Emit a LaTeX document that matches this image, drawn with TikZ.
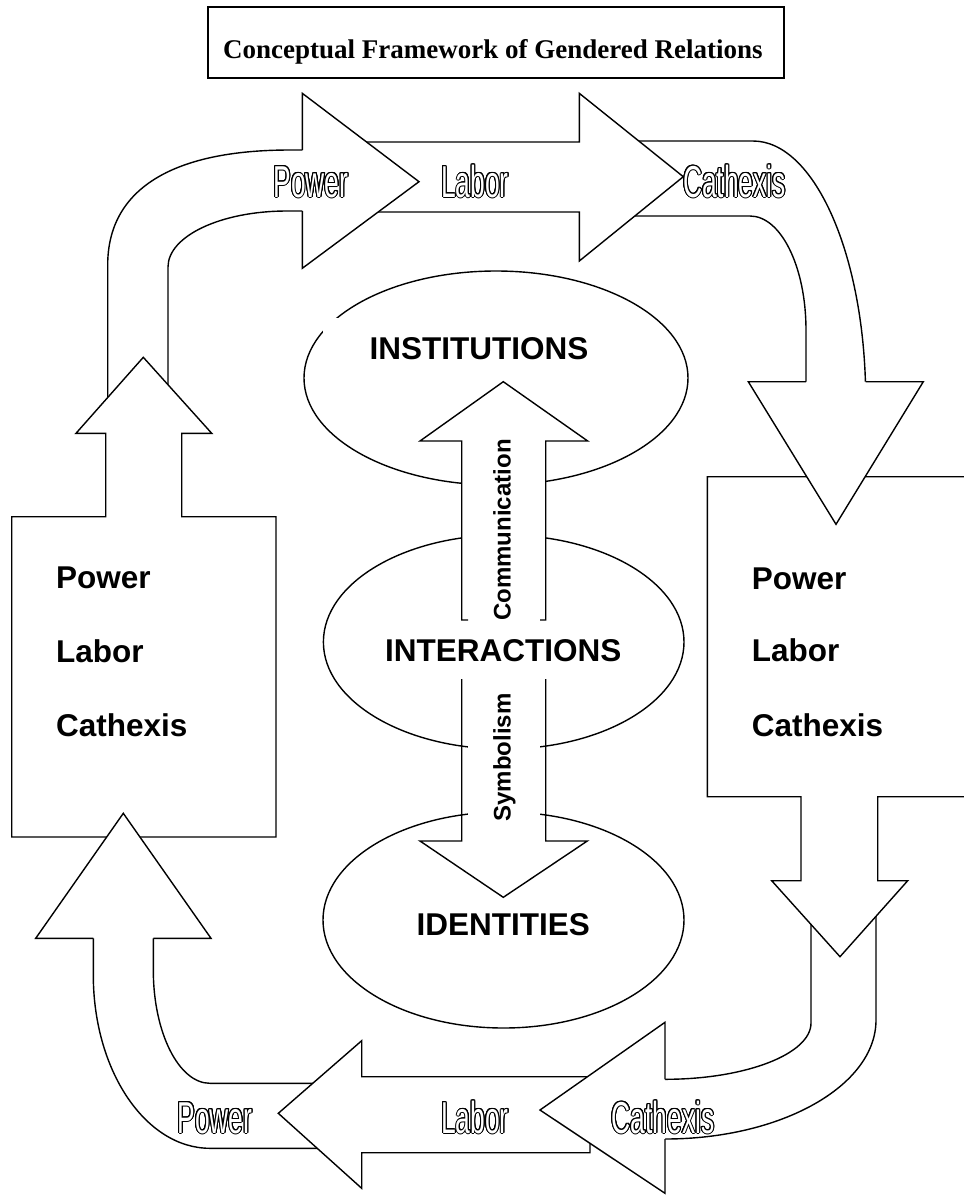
\documentclass[tikz,border=0pt]{standalone}
\usepackage{fontspec}
\setmainfont{Liberation Serif}
\newfontfamily\arialf{Liberation Sans}
\usepackage{graphicx}
\usepackage{contour}
\contourlength{1pt}
\newcommand{\outl}[1]{{\color{white}\contour{black}{\scalebox{0.59}[1]{#1}}}}
\begin{document}
\begin{tikzpicture}[x=1pt,y=-1pt,
  shp/.style={draw=black, fill=white, line width=1.4pt, line join=miter},
  lin/.style={draw=black, line width=1.4pt},
  bigtext/.style={font=\arialf\bfseries\fontsize{31.5}{37.8}\selectfont, inner sep=0pt},
  smalltext/.style={font=\arialf\bfseries\fontsize{24}{28}\selectfont, inner sep=0pt},
  outtext/.style={font=\arialf\fontsize{44.7}{50}\selectfont, inner sep=0pt, anchor=base},
  titletext/.style={font=\bfseries\fontsize{27}{32}\selectfont, inner sep=0pt}]
\useasboundingbox (0,0) rectangle (964,1195);
\clip (0,0) rectangle (964,1195);
\fill[white] (0,0) rectangle (964,1195);

% title
\draw[line width=2pt] (207.7,7.3) rectangle (784,78.3);
\node[titletext, anchor=base west] (title) at (223,58.3) {Conceptual Framework of Gendered Relations};

% top-right band (Cathexis)
\filldraw[shp] (600,141) -- (753,141) .. controls (815,141) and (865.7,257) .. (865.7,400) -- (865.7,410) -- (806,410) -- (806,330) .. controls (806,267) and (781,216) .. (750,216) -- (600,216) -- cycle;
% top Labor arrow
\filldraw[shp] (330,142) -- (579.3,142) -- (579.3,93.3) -- (683.3,176.7) -- (579.3,261) -- (579.3,212) -- (330,212) -- cycle;
% top-left band (Power)
\filldraw[shp] (107.7,420) -- (107.7,265) .. controls (107.7,190) and (171,150) .. (290,150) -- (320,150) -- (320,211) -- (287,211) .. controls (221,211) and (168,236) .. (168,267) -- (168,420) -- cycle;
% top Power head
\filldraw[shp] (302.3,150) -- (302.3,93.3) -- (419,181.7) -- (302.3,268.3) -- (302.3,211);

% left box with up arrow
\filldraw[shp] (11.7,516.7) -- (105.7,516.7) -- (105.7,433.3) -- (76,433.3) -- (143.3,357.3) -- (211.7,433.3) -- (181.7,433.3) -- (181.7,516.7) -- (276,516.7) -- (276,837) -- (11.7,837) -- cycle;

% bottom-left band
\filldraw[shp] (93.3,920) -- (93.3,975) .. controls (93.3,1070.7) and (145.6,1148.3) .. (210,1148.3) -- (330,1148.3) -- (330,1083.3) -- (210,1083.3) .. controls (178.7,1083.3) and (153.3,1032.5) .. (153.3,970) -- (153.3,920) -- cycle;
% bottom-left up head
\filldraw[shp] (93.3,938.3) -- (35.7,938.3) -- (123.3,813.3) -- (211,938.3) -- (153.3,938.3);
% bottom Power arrow
\filldraw[shp] (361.7,1076.7) -- (361.7,1040.7) -- (278.3,1113.3) -- (361.7,1188.3) -- (361.7,1152.7) -- (590,1152.7) -- (590,1076.7) -- cycle;
% bottom-right band
\filldraw[shp] (811,900) -- (811,1023) .. controls (811,1054) and (745.6,1079.3) .. (665,1079.3) -- (630,1079.3) -- (630,1139) -- (665,1139) .. controls (781.5,1139) and (876,1085.7) .. (876,1020) -- (876,900) -- cycle;
% right box with down arrow
\filldraw[shp] (707.3,476.7) -- (975,476.7) -- (975,796.7) -- (877.7,796.7) -- (877.7,880.7) -- (907.7,880.7) -- (840,956.7) -- (771.7,880.7) -- (801,880.7) -- (801,796.7) -- (707.3,796.7) -- cycle;
% bottom Labor head
\filldraw[shp] (665,1079.3) -- (665,1022.3) -- (540,1110) -- (665,1193.3) -- (665,1139);
% top Cathexis head
\filldraw[shp] (806,381.7) -- (748.3,381.7) -- (836,524.3) -- (923.3,381.7) -- (865.7,381.7);

% ellipses
\draw[lin] (496,378) ellipse [x radius=192pt, y radius=107pt];
\draw[lin] (503.7,642) ellipse [x radius=180.3pt, y radius=107pt];
\draw[lin] (503.5,920) ellipse [x radius=180.5pt, y radius=108pt];
\fill[white] (323,318) rectangle (635,372);

% central arrows
\filldraw[shp] (468,620) -- (461.7,620) -- (461.7,441) -- (420,441) -- (503.3,381.7) -- (587.7,441) -- (545.7,441) -- (545.7,620) -- (540,620);
\draw[lin, line join=miter] (461.7,679) -- (461.7,841) -- (420,841) -- (503.3,897.3) -- (587.3,841) -- (545.7,841) -- (545.7,679);
\fill[white] (468,681) rectangle (540,835);

% ellipse texts
\node[bigtext, anchor=base] (inst) at (479,359.3) {INSTITUTIONS};
\node[bigtext, anchor=base] (inter) at (503.3,661.7) {INTERACTIONS};
\node[bigtext, anchor=base] (ident) at (503.3,935) {IDENTITIES};
\node[smalltext, anchor=base, rotate=90] (comm) at (510.5,530) {Communication};
\node[smalltext, anchor=base, rotate=90] (symb) at (510.5,757.5) {Symbolism};

% box texts
\node[bigtext, anchor=base west] (lp) at (56,588.3) {Power};
\node[bigtext, anchor=base west] (ll) at (56,662) {Labor};
\node[bigtext, anchor=base west] (lc) at (56,736) {Cathexis};
\node[bigtext, anchor=base west] (rp) at (751.7,589.3) {Power};
\node[bigtext, anchor=base west] (rl) at (751.7,661.7) {Labor};
\node[bigtext, anchor=base west] (rc) at (751.7,736.7) {Cathexis};

% outlined labels
\node[outtext] (tp) at (310.8,197) {\outl{Power}};
\node[outtext] (tl) at (475,197) {\outl{Labor}};
\node[outtext] (tc) at (734.5,197) {\outl{Cathexis}};
\node[outtext] (bp) at (215,1133) {\outl{Power}};
\node[outtext] (bl) at (475,1133) {\outl{Labor}};
\node[outtext] (bc) at (663,1133) {\outl{Cathexis}};
\end{tikzpicture}
\end{document}
